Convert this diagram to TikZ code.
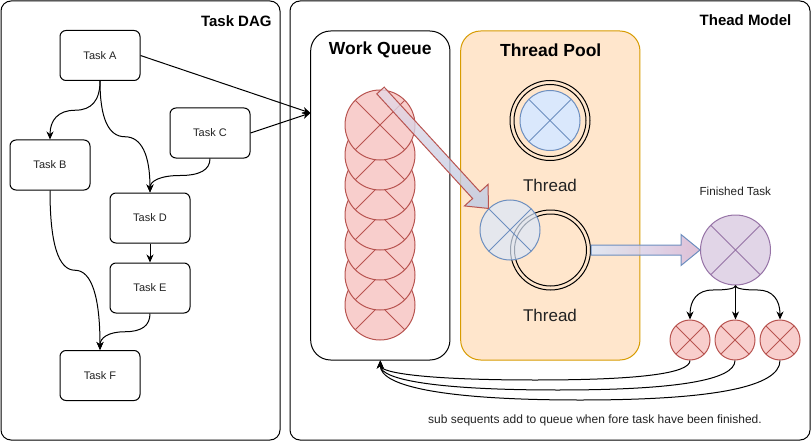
\documentclass[tikz,border=0pt]{standalone}
\usepackage{fontspec}
\setmainfont{Liberation Sans}
\usetikzlibrary{arrows.meta,calc}
\definecolor{rfill}{HTML}{F8CECC}
\definecolor{rdraw}{HTML}{B85450}
\definecolor{bfill}{HTML}{DAE8FC}
\definecolor{bdraw}{HTML}{6C8EBF}
\definecolor{ofill}{HTML}{FFE6CC}
\definecolor{odraw}{HTML}{D79B00}
\definecolor{pfill}{HTML}{E1D5E7}
\definecolor{pdraw}{HTML}{9673A6}
\definecolor{txt}{HTML}{222222}
\definecolor{arrAtop}{HTML}{E8D8E4}
\definecolor{arrAbot}{HTML}{BCCAE4}
\definecolor{arrBright}{HTML}{D6B0CC}

\newcommand\vhv[4][]{%
  \coordinate (vhvA) at (#2 |- #3);
  \coordinate (vhvB) at (#3 -| #4);
  \coordinate (vhvM) at ($(vhvA)!0.5!(vhvB)$);
  \draw[#1] (#2) .. controls ($(vhvA)!1/3!(#2)$) and ($(vhvA)!1/3!(vhvM)$) .. (vhvM)
     .. controls ($(vhvB)!1/3!(vhvM)$) and ($(vhvB)!1/3!(#4)$) .. (#4);
}
\newcommand\vhvmid[3][]{%
  \coordinate (vhvL) at ($(#2)!0.5!(#3)$);
  \vhv[#1]{#2}{vhvL}{#3}%
}

\begin{document}
\begin{tikzpicture}[x=1pt,y=-1pt,line width=1pt,
  arr/.style={-{Stealth[length=8pt,width=7pt,inset=2.5pt]}},
  frame/.style={draw,rounded corners=10pt,inner sep=0pt},
  taskbox/.style={draw,rounded corners=6pt,minimum width=80pt,minimum height=50pt,
    inner sep=0pt,text=txt,font=\fontsize{11}{13}\selectfont},
  sumcirc/.style n args={3}{circle,draw=#2,fill=#1,minimum size=#3,inner sep=0pt,
    path picture={\draw[#2] (path picture bounding box.north west) -- (path picture bounding box.south east)
      (path picture bounding box.north east) -- (path picture bounding box.south west);}},
  title/.style={font=\bfseries\fontsize{15}{18}\selectfont,inner sep=0pt},
  bigtitle/.style={font=\bfseries\fontsize{17.5}{20}\selectfont,inner sep=0pt},
  lbl/.style={inner sep=0pt,text=txt}
]
\useasboundingbox (0,0) rectangle (811,441);

% frames
\node[frame,minimum width=279pt,minimum height=439pt] (dag) at (140.5,220.5) {};
\node[frame,minimum width=520pt,minimum height=439pt] (model) at (550,220.5) {};
\node[title] (dagt) at (236.3,20.7) {Task DAG};
\node[title] (modelt) at (745.5,20.5) {Thead Model};

\node[draw,rounded corners=20pt,minimum width=139.3pt,minimum height=329pt,inner sep=0pt] (wq) at (380.3,195.5) {};
\node[draw=odraw,fill=ofill,rounded corners=20pt,minimum width=179.3pt,minimum height=329pt,inner sep=0pt] (tp) at (550.3,195.5) {};
\node[bigtitle] (wqt) at (380.3,50) {Work Queue};
\node[bigtitle] (tpt) at (550.8,50) {Thread Pool};

% tasks
\node[taskbox] (A) at (100,55.5) {Task A};
\node[taskbox] (B) at (50,165) {Task B};
\node[taskbox] (C) at (210,133) {Task C};
\node[taskbox] (D) at (150,218) {Task D};
\node[taskbox] (E) at (150,288) {Task E};
\node[taskbox] (F) at (100,375.5) {Task F};

\vhvmid[arr]{A.south}{B.north}
\vhvmid[arr]{A.south}{D.north}
\vhvmid[arr]{C.south}{D.north}
\draw[arr] (D.south) -- (E.north);
\vhvmid[arr]{B.south}{F.north}
\vhvmid[arr]{E.south}{F.north}

\coordinate (wqin) at (310.5,113);
\draw[arr] (A.east) -- (wqin);
\draw[arr] (C.east) -- (wqin);

% queue
\foreach \i/\y in {7/305,6/275,5/245,4/215,3/185,2/155,1/125}
  \node[sumcirc={rfill}{rdraw}{70pt}] (q\i) at (380,\y) {};

% threads
\node[draw,circle,minimum size=80pt,inner sep=0pt] (ring1) at (550,120.5) {};
\draw (ring1.center) circle[radius=36pt];
\node[sumcirc={bfill}{bdraw}{60pt}] (th1) at (550,120.5) {};
\node[lbl,font=\fontsize{17}{20}\selectfont] (thl1) at (550,185) {Thread};

\node[draw,circle,minimum size=80pt,inner sep=0pt] (ring2) at (550.5,250) {};
\draw (ring2.center) circle[radius=36pt];
\node[lbl,font=\fontsize{17}{20}\selectfont] (thl2) at (550,315) {Thread};

\node[sumcirc={bfill}{bdraw}{60pt},fill opacity=0.7] (mv) at (510,230) {};

% finished
\node[sumcirc={pfill}{pdraw}{70pt}] (fin) at (735.5,250) {};
\node[lbl,font=\fontsize{11.7}{14}\selectfont] (finl) at (735.3,191) {Finished Task};

\node[sumcirc={rfill}{rdraw}{40pt}] (s1) at (690,340) {};
\node[sumcirc={rfill}{rdraw}{40pt}] (s2) at (735,340) {};
\node[sumcirc={rfill}{rdraw}{40pt}] (s3) at (780,340) {};

\coordinate (flv) at (735,290);
\vhv[arr]{fin.south}{flv}{s1.north}
\draw[arr] (fin.south) -- (fin.south |- s2.north);
\vhv[arr]{fin.south}{flv}{s3.north}

\coordinate (r1) at (0,380);
\coordinate (r2) at (0,390);
\coordinate (r3) at (0,400);
\vhv[arr]{s1.south}{r1}{wq.south}
\vhv[arr]{s2.south}{r2}{wq.south}
\vhv[arr]{s3.south}{r3}{wq.south}

% block arrow 1 (queue -> thread)
\coordinate (T) at (380.5,90.5);
\coordinate (P) at (mv.north west);
\coordinate (Bh) at ($(P)!18pt!(T)$);
\path[draw=rdraw,top color=arrAtop,bottom color=arrAbot,fill opacity=0.8]
  ($(T)!5pt!90:(P)$) -- ($(Bh)!5pt!-90:(T)$) -- ($(Bh)!16pt!-90:(T)$) -- (P)
  -- ($(Bh)!16pt!90:(T)$) -- ($(Bh)!5pt!90:(T)$) -- ($(T)!5pt!-90:(P)$) -- cycle;

% block arrow 2 (thread -> finished)
\coordinate (s2a) at (ring2.east);
\coordinate (e2a) at (fin.west);
\path[draw=bdraw,left color=bfill,right color=arrBright,fill opacity=0.8]
  ($(s2a)+(0,-5)$) -- ($(e2a)+(-19,-5)$) -- ($(e2a)+(-19,-15.5)$) -- (e2a)
  -- ($(e2a)+(-19,15.5)$) -- ($(e2a)+(-19,5)$) -- ($(s2a)+(0,5)$) -- cycle;

\node[lbl,font=\fontsize{12}{14}\selectfont] (note) at (595,420.5) {sub sequents add to queue when fore task have been finished.};
\end{tikzpicture}
\end{document}
